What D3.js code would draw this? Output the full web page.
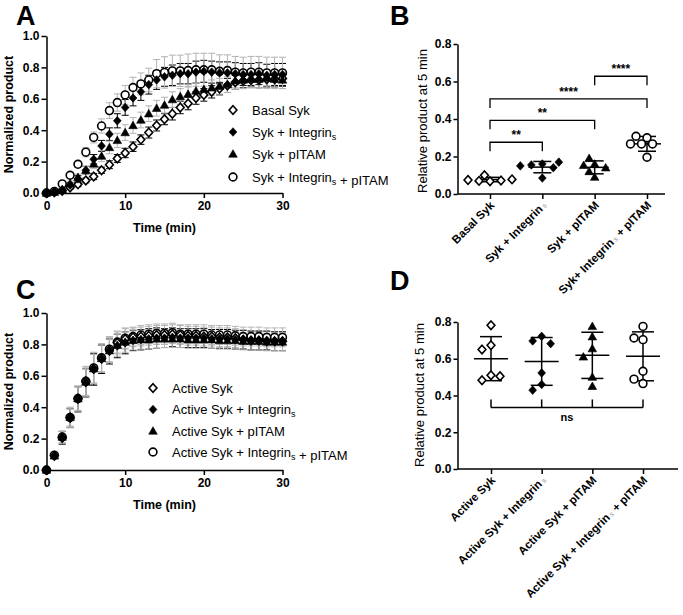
<!DOCTYPE html>
<html>
<head>
<meta charset="utf-8">
<script src="https://cdn.jsdelivr.net/npm/d3@7"></script>
<style>
  body { margin: 0; background: #fff; }
  text { font-family: "Liberation Sans", Arial, sans-serif; fill: #000; }
</style>
</head>
<body>
<script>
// time course + bar-scatter panels (A-D)
var width = 683;
var height = 615;

// --- data ---
var timeMin = [0,1,2,3,4,5,6,7,8,9,10,11,12,13,14,15,16,17,18,19,20,21,22,23,24,25,26,27,28,29,30];

// panel A
var basalSyk = [0,0.005,0.015,0.035,0.055,0.08,0.105,0.145,0.18,0.22,0.255,0.295,0.34,0.385,0.43,0.47,0.505,0.545,0.57,0.605,0.625,0.645,0.665,0.685,0.705,0.715,0.72,0.72,0.725,0.725,0.73];
var basalSykErr = [0,0.005,0.01,0.01,0.015,0.015,0.02,0.02,0.025,0.025,0.03,0.03,0.03,0.035,0.035,0.035,0.04,0.04,0.04,0.04,0.04,0.04,0.04,0.045,0.045,0.045,0.045,0.05,0.05,0.05,0.05];
var sykInt = [0,0.01,0.02,0.05,0.09,0.145,0.215,0.3,0.375,0.46,0.545,0.605,0.645,0.69,0.72,0.74,0.75,0.76,0.76,0.77,0.775,0.77,0.765,0.765,0.76,0.755,0.755,0.76,0.75,0.755,0.755];
var sykIntErr = [0,0.005,0.01,0.015,0.02,0.025,0.03,0.035,0.04,0.045,0.05,0.05,0.055,0.06,0.06,0.06,0.065,0.065,0.065,0.07,0.07,0.07,0.07,0.07,0.07,0.07,0.07,0.07,0.07,0.07,0.07];
var sykPitam = [0,0.005,0.02,0.06,0.1,0.145,0.185,0.235,0.29,0.335,0.385,0.43,0.465,0.505,0.54,0.56,0.595,0.615,0.63,0.65,0.66,0.67,0.68,0.69,0.715,0.72,0.725,0.725,0.73,0.725,0.72];
var sykPitamErr = [0,0.005,0.01,0.015,0.02,0.025,0.03,0.035,0.04,0.045,0.05,0.05,0.05,0.05,0.05,0.05,0.05,0.05,0.05,0.05,0.05,0.05,0.05,0.05,0.055,0.055,0.055,0.055,0.055,0.055,0.055];
var sykBoth = [0,0.01,0.058,0.113,0.183,0.26,0.354,0.427,0.525,0.576,0.625,0.672,0.695,0.72,0.76,0.768,0.778,0.778,0.78,0.785,0.785,0.785,0.775,0.78,0.77,0.765,0.77,0.77,0.765,0.765,0.765];
var sykBothErr = [0,0.005,0.01,0.015,0.02,0.03,0.035,0.045,0.05,0.055,0.06,0.065,0.07,0.075,0.09,0.1,0.1,0.1,0.105,0.105,0.105,0.105,0.105,0.1,0.1,0.1,0.1,0.1,0.1,0.1,0.1];

// panel C
var activeSyk = [0,0.09,0.205,0.335,0.455,0.565,0.645,0.71,0.765,0.81,0.835,0.845,0.85,0.855,0.86,0.86,0.865,0.86,0.855,0.855,0.85,0.85,0.845,0.845,0.84,0.83,0.825,0.825,0.82,0.82,0.82];
var activeSykErr = [0,0.015,0.04,0.06,0.08,0.09,0.1,0.09,0.08,0.07,0.065,0.06,0.06,0.06,0.06,0.06,0.06,0.06,0.06,0.06,0.06,0.06,0.06,0.06,0.06,0.06,0.06,0.06,0.06,0.06,0.06];
var activeInt = [0,0.09,0.205,0.33,0.45,0.555,0.64,0.705,0.755,0.79,0.81,0.825,0.83,0.835,0.84,0.84,0.845,0.84,0.84,0.84,0.84,0.835,0.835,0.835,0.83,0.83,0.825,0.825,0.825,0.82,0.82];
var activeIntErr = [0,0.015,0.04,0.06,0.08,0.09,0.1,0.09,0.08,0.075,0.07,0.065,0.065,0.065,0.065,0.06,0.06,0.06,0.06,0.06,0.06,0.06,0.06,0.06,0.06,0.06,0.06,0.06,0.06,0.06,0.06];
var activePitam = [0,0.09,0.21,0.335,0.455,0.56,0.645,0.71,0.76,0.795,0.815,0.825,0.83,0.83,0.835,0.835,0.835,0.835,0.83,0.83,0.83,0.83,0.825,0.825,0.825,0.82,0.82,0.82,0.815,0.815,0.815];
var activePitamErr = [0,0.015,0.035,0.055,0.075,0.085,0.09,0.085,0.075,0.07,0.065,0.06,0.06,0.06,0.06,0.055,0.055,0.055,0.055,0.055,0.055,0.055,0.055,0.055,0.055,0.055,0.055,0.055,0.055,0.055,0.055];
var activeBoth = [0,0.095,0.21,0.335,0.455,0.565,0.65,0.715,0.77,0.815,0.84,0.85,0.86,0.865,0.87,0.87,0.875,0.865,0.865,0.865,0.865,0.86,0.86,0.86,0.855,0.85,0.85,0.85,0.845,0.845,0.845];
var activeBothErr = [0,0.015,0.04,0.065,0.08,0.095,0.1,0.09,0.08,0.07,0.065,0.06,0.06,0.06,0.06,0.06,0.06,0.06,0.06,0.06,0.06,0.06,0.06,0.06,0.06,0.06,0.06,0.06,0.06,0.06,0.06];

// panel B (relative product at 5 min)
var bCats = ["Basal Syk", "Syk + Integrin", "Syk + pITAM", "Syk+ Integrin + pITAM"];
var bBasal = [0.068,0.07,0.072,0.075,0.078,0.1];
var bInt = [0.16,0.155,0.14,0.15,0.17,0.085];
var bPitam = [0.16,0.153,0.19,0.14,0.09,0.12];
var bBoth = [0.3,0.308,0.267,0.267,0.267,0.196];
var bBrackets = [
  {from: 0, to: 1, y: 0.276, label: "**"},
  {from: 0, to: 2, y: 0.393, label: "**"},
  {from: 0, to: 3, y: 0.507, label: "****"},
  {from: 2, to: 3, y: 0.628, label: "****"}
];

// panel D
var dCats = ["Active Syk", "Active Syk + Integrin", "Active Syk + pITAM", "Active Syk + Integrin + pITAM"];
var dActive = [0.782,0.673,0.65,0.51,0.483,0.505];
var dInt = [0.722,0.697,0.682,0.523,0.46,0.429];
var dPitam = [0.776,0.72,0.655,0.61,0.5,0.45];
var dBoth = [0.776,0.704,0.713,0.532,0.465,0.489];
var dNsLevel = 0.335;

var yTicksA = [0,0.2,0.4,0.6,0.8,1.0];
var yTicksB = [0,0.2,0.4,0.6,0.8];
var xTicksA = [0,10,20,30];

var GREY = "#b3b3b3";

var svg = d3.select("body")
  .append("svg")
  .attr("width", width)
  .attr("height", height);

// marker shapes
function markerPath(type) {
  if (type == "circle") return d3.symbol().type(d3.symbolCircle).size(48)();
  if (type == "tri") return "M0,-4.3L4.3,3.2L-4.3,3.2Z";
  return "M0,-4.3L3.9,0L0,4.3L-3.9,0Z";
}
function drawMarker(g, type, open, x, y) {
  g.append("path")
    .attr("d", markerPath(type))
    .attr("transform", "translate(" + x + "," + y + ")")
    .attr("fill", open ? "#fff" : "#000")
    .attr("stroke", "#000")
    .attr("stroke-width", open ? 1.6 : 0.6);
}

function styleAxis(g, size) {
  g.select(".domain").attr("stroke", "#000").attr("stroke-width", 1.5);
  g.selectAll(".tick line").attr("stroke", "#000").attr("stroke-width", 1.5);
  g.selectAll("text")
    .attr("font-weight", "bold")
    .attr("font-size", size || "12px")
    .attr("font-family", "'Liberation Sans', Arial, sans-serif")
    .attr("fill", "#000");
}

function panelLetter(txt, x, y) {
  svg.append("text").attr("x", x).attr("y", y)
    .attr("font-size", "27px").attr("font-weight", "bold").text(txt);
}

// ---------- time-course panel (A and C) ----------
function timePanel(opts) {
  var x = d3.scaleLinear().domain([0, 30]).range([46.5, 282.5]);
  var y = d3.scaleLinear().domain([0, 1]).range([opts.y0, opts.y1]);
  var g = svg.append("g");

  g.append("g")
    .attr("transform", "translate(0," + opts.y0 + ")")
    .call(d3.axisBottom(x).tickValues(xTicksA).tickSize(5).tickSizeOuter(0).tickPadding(3))
    .call(styleAxis);
  g.append("g")
    .attr("transform", "translate(46.5,0)")
    .call(d3.axisLeft(y).tickValues(yTicksA).tickFormat(d3.format(".1f")).tickSize(5).tickSizeOuter(0).tickPadding(2))
    .call(styleAxis);

  g.append("text")
    .attr("transform", "translate(13," + ((opts.y0 + opts.y1) / 2) + ") rotate(-90)")
    .attr("text-anchor", "middle")
    .attr("font-weight", "bold").attr("font-size", "12.5px")
    .text("Normalized product");
  g.append("text")
    .attr("x", 164.5).attr("y", opts.y0 + 39)
    .attr("text-anchor", "middle")
    .attr("font-weight", "bold").attr("font-size", "12.5px")
    .text("Time (min)");

  // error bars first
  opts.series.forEach(function(s) {
    timeMin.forEach(function(t, i) {
      var e = s.err[i];
      if (!e) return;
      var cx = x(t), top = y(s.values[i] + e), bot = y(s.values[i] - e);
      var eg = g.append("g").attr("stroke", s.errColor).attr("stroke-width", 1);
      eg.append("line").attr("x1", cx).attr("x2", cx).attr("y1", top).attr("y2", bot);
      eg.append("line").attr("x1", cx - 3.5).attr("x2", cx + 3.5).attr("y1", top).attr("y2", top);
      eg.append("line").attr("x1", cx - 3.5).attr("x2", cx + 3.5).attr("y1", bot).attr("y2", bot);
    });
  });
  // markers
  opts.drawOrder.forEach(function(k) {
    var s = opts.series[k];
    timeMin.forEach(function(t, i) {
      drawMarker(g, s.type, s.open, x(t), y(s.values[i]));
    });
  });

  // legend
  opts.series.forEach(function(s, k) {
    var ly = opts.legendY[k];
    drawMarker(g, s.type, s.open, opts.legendX, ly);
    var txt = g.append("text").attr("x", opts.legendX + 19).attr("y", ly + 4.5)
      .attr("font-size", "13px");
    s.label.forEach(function(part) {
      if (part.sub) {
        txt.append("tspan").attr("font-size", "9px").attr("dy", 3).text(part.sub);
        txt.append("tspan").attr("dy", -3).text("");
      } else {
        txt.append("tspan").text(part.t);
      }
    });
  });
}

timePanel({
  y0: 193, y1: 36,
  legendX: 233, legendY: [110, 132, 154, 177],
  drawOrder: [3, 0, 2, 1],
  series: [
    {values: basalSyk, err: basalSykErr, type: "diamond", open: true, errColor: "#000",
      label: [{t: "Basal Syk"}]},
    {values: sykInt, err: sykIntErr, type: "diamond", open: false, errColor: "#000",
      label: [{t: "Syk + Integrin"}, {sub: "s"}]},
    {values: sykPitam, err: sykPitamErr, type: "tri", open: false, errColor: GREY,
      label: [{t: "Syk + pITAM"}]},
    {values: sykBoth, err: sykBothErr, type: "circle", open: true, errColor: GREY,
      label: [{t: "Syk + Integrin"}, {sub: "s"}, {t: " + pITAM"}]}
  ]
});

timePanel({
  y0: 470, y1: 313,
  legendX: 153, legendY: [388, 409.5, 431, 452],
  drawOrder: [3, 0, 2, 1],
  series: [
    {values: activeSyk, err: activeSykErr, type: "diamond", open: true, errColor: GREY,
      label: [{t: "Active Syk"}]},
    {values: activeInt, err: activeIntErr, type: "diamond", open: false, errColor: "#000",
      label: [{t: "Active Syk + Integrin"}, {sub: "s"}]},
    {values: activePitam, err: activePitamErr, type: "tri", open: false, errColor: GREY,
      label: [{t: "Active Syk + pITAM"}]},
    {values: activeBoth, err: activeBothErr, type: "circle", open: true, errColor: GREY,
      label: [{t: "Active Syk + Integrin"}, {sub: "s"}, {t: " + pITAM"}]}
  ]
});

// ---------- scatter panels (B and D) ----------
// simple swarm: shift points sideways when they would overlap
function swarm(vals, y, minDist, step) {
  var placed = [];
  return vals.map(function(v) {
    var py = y(v);
    for (var k = 0; k < 20; k++) {
      var off = k === 0 ? 0 : (k % 2 ? -1 : 1) * Math.ceil(k / 2) * step;
      var ok = placed.every(function(p) { return Math.hypot(p[0] - off, p[1] - py) >= minDist; });
      if (ok) { placed.push([off, py]); return off; }
    }
    return 0;
  });
}

function scatterPanel(opts) {
  var y = d3.scaleLinear().domain([0, 0.8]).range([opts.y0, opts.y1]);
  var x = d3.scalePoint().domain(opts.cats).range(opts.xRange);
  var g = svg.append("g");

  var xa = g.append("g")
    .attr("transform", "translate(0," + opts.y0 + ")")
    .call(d3.axisBottom(x).tickSize(5).tickSizeOuter(0).tickFormat(""))
    .call(styleAxis);
  xa.select(".domain").remove();
  g.append("line")
    .attr("x1", 457.5).attr("x2", opts.xEnd)
    .attr("y1", opts.y0).attr("y2", opts.y0)
    .attr("stroke", "#000").attr("stroke-width", 1.5);

  g.append("g")
    .attr("transform", "translate(457.5,0)")
    .call(d3.axisLeft(y).tickValues(yTicksB).tickFormat(d3.format(".1f")).tickSize(4).tickSizeOuter(0).tickPadding(2))
    .call(styleAxis);

  g.append("text")
    .attr("transform", "translate(" + opts.titleX + "," + opts.titleY + ") rotate(-90)")
    .attr("text-anchor", "middle")
    .attr("font-size", "13px")
    .text("Relative product at 5 min");

  // rotated category labels (subscript "s" after Integrin)
  opts.cats.forEach(function(c) {
    var t = g.append("text")
      .attr("transform", "translate(" + (x(c) + 5) + "," + (opts.y0 + 12) + ") rotate(-45)")
      .attr("text-anchor", "end")
      .attr("font-weight", "bold").attr("font-size", "11.5px");
    var i = c.indexOf("Integrin");
    if (i < 0) { t.text(c); return; }
    t.append("tspan").text(c.slice(0, i + 8));
    t.append("tspan").attr("font-size", "7px").attr("font-weight", "normal").attr("fill", "#999").text(" s");
    t.append("tspan").text(c.slice(i + 8));
  });

  opts.groups.forEach(function(grp, k) {
    var cx = x(opts.cats[k]);
    var m = d3.mean(grp.values), sd = d3.deviation(grp.values);
    var eg = g.append("g").attr("stroke", "#000").attr("stroke-width", 1.5);
    eg.append("line").attr("x1", cx - opts.meanW).attr("x2", cx + opts.meanW).attr("y1", y(m)).attr("y2", y(m));
    eg.append("line").attr("x1", cx).attr("x2", cx).attr("y1", y(m + sd)).attr("y2", y(m - sd));
    eg.append("line").attr("x1", cx - opts.capW).attr("x2", cx + opts.capW).attr("y1", y(m + sd)).attr("y2", y(m + sd));
    eg.append("line").attr("x1", cx - opts.capW).attr("x2", cx + opts.capW).attr("y1", y(m - sd)).attr("y2", y(m - sd));

    var offs = swarm(grp.values, y, opts.minDist, opts.step);
    grp.values.forEach(function(v, i) {
      drawMarker(g, grp.type, grp.open, cx + offs[i], y(v));
    });
  });

  return {g: g, x: x, y: y};
}

var pB = scatterPanel({
  cats: bCats, xRange: [490, 647], xEnd: 665,
  y0: 194, y1: 44, titleX: 427, titleY: 121,
  meanW: 14, capW: 9, minDist: 7, step: 5.5,
  groups: [
    {values: bBasal, type: "diamond", open: true},
    {values: bInt, type: "diamond", open: false},
    {values: bPitam, type: "tri", open: false},
    {values: bBoth, type: "circle", open: true}
  ]
});

bBrackets.forEach(function(b) {
  var x1 = pB.x(bCats[b.from]), x2 = pB.x(bCats[b.to]), yy = pB.y(b.y);
  pB.g.append("path")
    .attr("d", "M" + x1 + "," + (yy + 9) + "V" + yy + "H" + x2 + "V" + (yy + 9))
    .attr("fill", "none").attr("stroke", "#000").attr("stroke-width", 1.3);
  pB.g.append("text")
    .attr("x", (x1 + x2) / 2).attr("y", yy - 3)
    .attr("text-anchor", "middle")
    .attr("font-weight", "bold").attr("font-size", "12px")
    .text(b.label);
});

var pD = scatterPanel({
  cats: dCats, xRange: [491, 643], xEnd: 678,
  y0: 469, y1: 322, titleX: 424, titleY: 395,
  meanW: 17, capW: 11, minDist: 8.5, step: 9,
  groups: [
    {values: dActive, type: "diamond", open: true},
    {values: dInt, type: "diamond", open: false},
    {values: dPitam, type: "tri", open: false},
    {values: dBoth, type: "circle", open: true}
  ]
});

// "ns" bracket across all four groups
(function() {
  var yy = pD.y(dNsLevel);
  var xs = dCats.map(function(c) { return pD.x(c); });
  pD.g.append("line")
    .attr("x1", xs[0]).attr("x2", xs[3]).attr("y1", yy).attr("y2", yy)
    .attr("stroke", "#000").attr("stroke-width", 1.5);
  xs.forEach(function(px) {
    pD.g.append("line")
      .attr("x1", px).attr("x2", px).attr("y1", yy).attr("y2", yy - 8)
      .attr("stroke", "#000").attr("stroke-width", 1.5);
  });
  pD.g.append("text")
    .attr("x", (xs[1] + xs[2]) / 2).attr("y", yy + 14)
    .attr("text-anchor", "middle")
    .attr("font-weight", "bold").attr("font-size", "11px")
    .text("ns");
})();

panelLetter("A", 16, 25);
panelLetter("B", 390, 25);
panelLetter("C", 16, 299);
panelLetter("D", 390, 290);
</script>
</body>
</html>
